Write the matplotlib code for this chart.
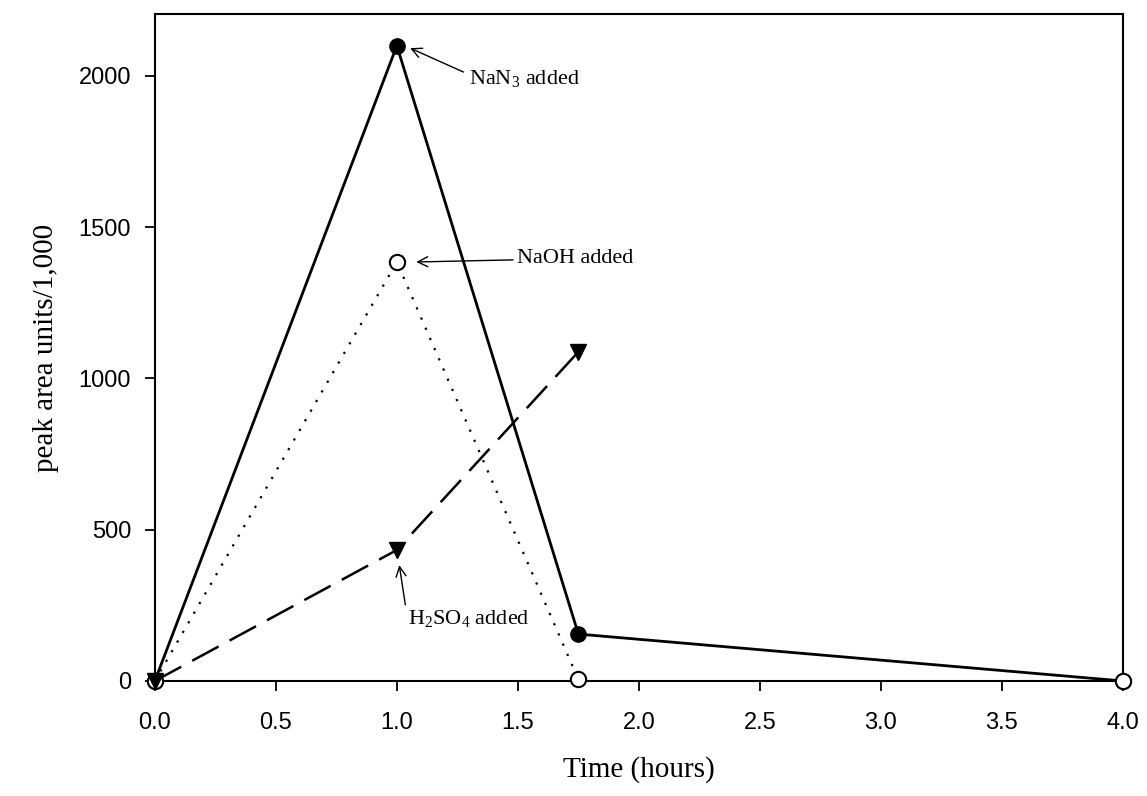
import matplotlib
matplotlib.use("Agg")
import matplotlib.pyplot as plt

# time points (hours)
time = [0.0, 1.0, 1.75, 4.0]

# peak area units / 1,000
nan3 = [0, 2100, 155, 0]
naoh = [0, 1385, 5, 0]
h2so4_time = [0.0, 1.0, 1.75]
h2so4 = [0, 433, 1088]

xticks = [0.0, 0.5, 1.0, 1.5, 2.0, 2.5, 3.0, 3.5, 4.0]
yticks = [0, 500, 1000, 1500, 2000]

serif = ["Liberation Serif", "DejaVu Serif"]
sans = ["Liberation Sans", "DejaVu Sans"]

plt.rcParams["mathtext.fontset"] = "custom"
plt.rcParams["mathtext.rm"] = "Liberation Serif"
plt.rcParams["mathtext.it"] = "Liberation Serif:italic"

fig = plt.figure(figsize=(11.47, 7.96), dpi=100)
ax = fig.add_axes([0.135, 0.1445, 0.844, 0.838])

ax.plot(time, nan3, color="black", lw=2.0, marker="o", ms=11,
        mfc="black", mec="black", zorder=3, clip_on=False)
ax.plot(time[:3], naoh[:3], color="black", lw=1.6, ls=(0, (1, 4)),
        zorder=3)
ax.plot(time, naoh, ls="none", marker="o", ms=11, mfc="white",
        mec="black", mew=1.5, zorder=4, clip_on=False)
ax.plot(h2so4_time, h2so4, color="black", lw=1.8, dashes=(12, 5),
        marker="v", ms=11, mfc="black", mec="black", zorder=5,
        clip_on=False)

arrow = dict(arrowstyle="->", color="black", lw=1.0, mutation_scale=18,
             shrinkA=0, shrinkB=0)
# NaN3
ax.annotate("", xy=(1.055, 2092), xytext=(1.275, 2013), arrowprops=arrow)
ax.text(1.30, 1990, "NaN$_3$ added", fontsize=16, family=serif,
        va="center", ha="left")
# NaOH
ax.annotate("", xy=(1.08, 1385), xytext=(1.48, 1392), arrowprops=arrow)
ax.text(1.495, 1395, "NaOH added", fontsize=16, family=serif,
        va="center", ha="left")
# H2SO4
ax.annotate("", xy=(1.01, 383), xytext=(1.035, 252), arrowprops=arrow)
ax.text(1.045, 205, "H$_2$SO$_4$ added", fontsize=16, family=serif,
        va="center", ha="left")

ax.set_xlim(0, 4)
ax.set_ylim(0, 2205)
ax.set_xticks(xticks)
ax.set_xticklabels([f"{t:.1f}" for t in xticks], family=sans, fontsize=17)
ax.set_yticks(yticks)
ax.set_yticklabels([str(t) for t in yticks], family=sans, fontsize=17)
ax.tick_params(direction="out", length=7, width=1.3)
ax.tick_params(axis="x", pad=15)
ax.tick_params(axis="y", pad=10)

for s in ax.spines.values():
    s.set_linewidth(1.5)

ax.set_xlabel("Time (hours)", family=serif, fontsize=21, labelpad=16)
ax.set_ylabel("peak area units/1,000", family=serif, fontsize=21, labelpad=14)

plt.savefig("out.png", dpi=100)
